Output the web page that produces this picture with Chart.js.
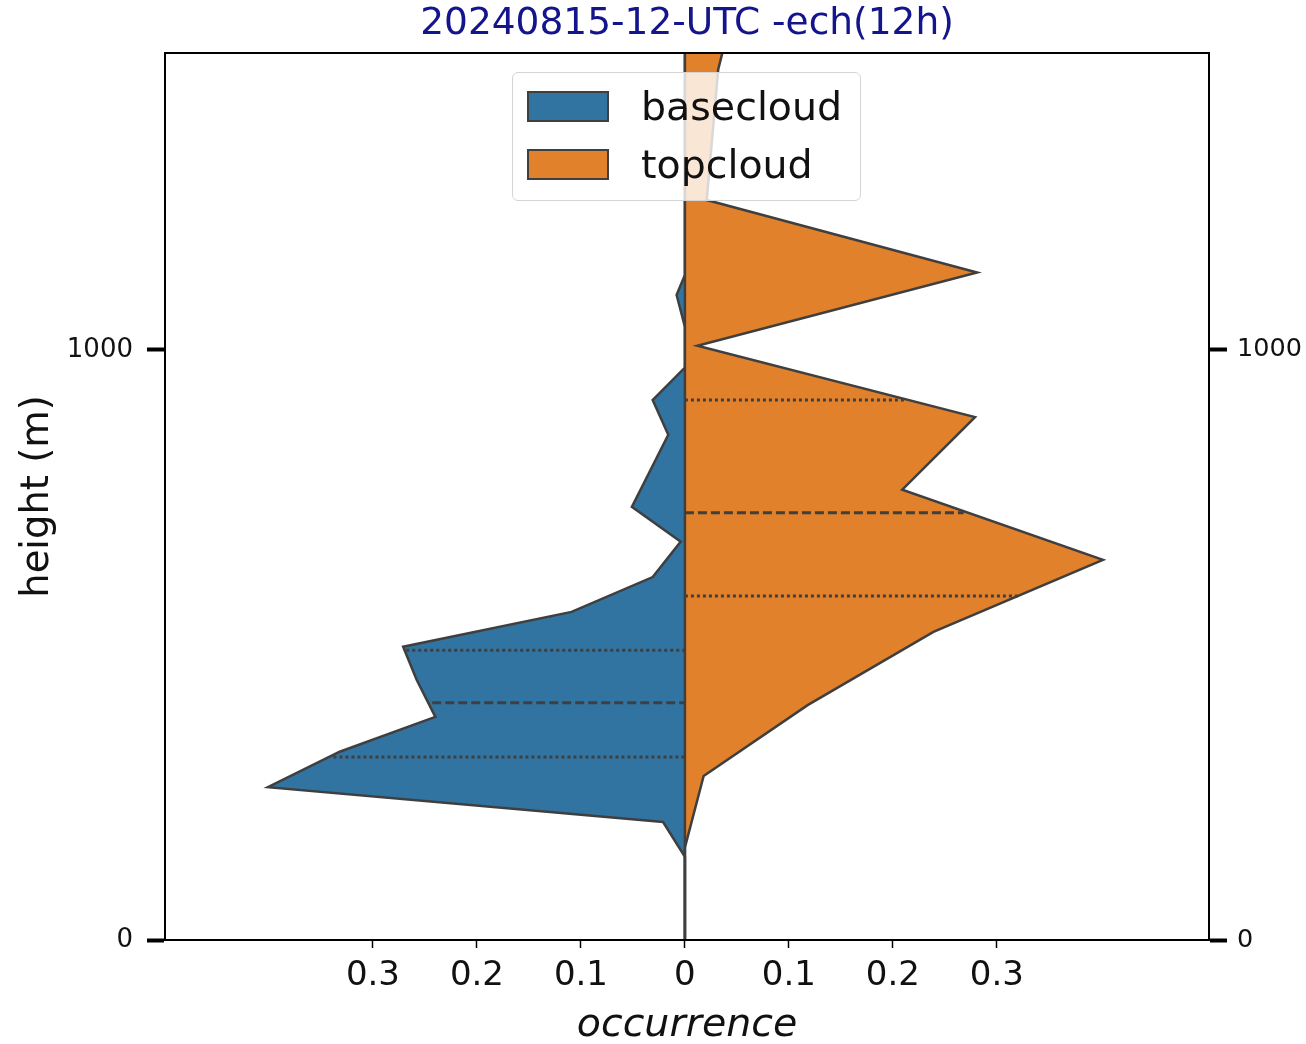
<!DOCTYPE html>
<html>
<head>
<meta charset="utf-8">
<script src="https://cdn.jsdelivr.net/npm/chart.js"></script>
<style>
  html, body { margin: 0; padding: 0; background: #fff; }
  #wrap { position: relative; width: 1306px; height: 1044px; }
  #legend {
    position: absolute; left: 512px; top: 72px; width: 347px; height: 127px;
    background: rgba(255,255,255,0.8); border: 1.5px solid #d4d4d4; border-radius: 6px;
    font-family: 'DejaVu Sans', sans-serif; font-size: 39.5px; color: #111;
  }
  .item { position: absolute; left: 14px; height: 40px; display: flex; align-items: center; }
  .patch { width: 78px; height: 27px; border: 2.5px solid #3f3f3f; margin-right: 32px; }
  .label { line-height: 40px; }
</style>
</head>
<body>
<div id="wrap">
  <canvas id="c" width="1306" height="1044"></canvas>
  <div id="legend"></div>
</div>
<script>
// ---- data ----
const titleText = '20240815-12-UTC -ech(12h)';
const seriesNames = ['basecloud', 'topcloud'];
const seriesColors = ['#3274a1', '#e1812c'];

// basecloud: heights (m) and occurrence (drawn on the left half)
const baseHeights = [0, 141, 200, 259, 319, 378, 441, 497, 556, 615, 675, 734, 856, 915, 970, 1039, 1093, 1127, 1503];
const baseOcc     = [0, 0, 0.021, 0.401, 0.332, 0.240, 0.258, 0.271, 0.109, 0.031, 0.004, 0.051, 0.016, 0.031, 0, 0, 0.008, 0, 0];

// topcloud: heights (m) and occurrence (drawn on the right half)
const topHeights = [0, 157, 278, 398, 522, 644, 763, 886, 1007, 1131, 1254, 1475, 1503];
const topOcc     = [0, 0, 0.018, 0.118, 0.239, 0.402, 0.209, 0.279, 0.012, 0.281, 0.021, 0.032, 0.036];

// quartile lines (height, extent) : [q1, median, q3]
const baseQuartH = [310, 402, 491];
const baseQuartW = [0.338, 0.243, 0.268];
const topQuartH  = [583, 724, 915];
const topQuartW  = [0.322, 0.268, 0.213];
const quartKinds = ['dotted', 'dashed', 'dotted'];

// axes
const yMin = 0, yMax = 1503;
const xMin = -0.5, xMax = 0.504;
const yTickValues = [0, 1000];
const yTickLabels = ['0', '1000'];
const xTickValues = [-0.3, -0.2, -0.1, 0, 0.1, 0.2, 0.3];
const xTickLabels = ['0.3', '0.2', '0.1', '0', '0.1', '0.2', '0.3'];

// ---- build ----
const edge = '#3f3f3f';
const FONT = 'DejaVu Sans';
Chart.defaults.font.family = FONT;
Chart.defaults.color = '#111';

const datasets = [];
datasets.push({
  label: seriesNames[0],
  data: baseHeights.map((h, i) => ({ x: -baseOcc[i], y: h })),
  backgroundColor: seriesColors[0], borderColor: edge, borderWidth: 2.5,
  fill: 'origin', pointRadius: 0, tension: 0, order: 10
});
datasets.push({
  label: seriesNames[1],
  data: topHeights.map((h, i) => ({ x: topOcc[i], y: h })),
  backgroundColor: seriesColors[1], borderColor: edge, borderWidth: 2.5,
  fill: 'origin', pointRadius: 0, tension: 0, order: 9
});
datasets.push({
  label: 'split',
  data: [{ x: 0, y: yMin }, { x: 0, y: yMax }],
  borderColor: edge, borderWidth: 2.5, fill: false, pointRadius: 0, order: 8
});
const dashFor = k => k === 'dashed' ? [9, 4] : [3, 3];
baseQuartH.forEach((h, i) => datasets.push({
  label: 'bq' + i, data: [{ x: -baseQuartW[i], y: h }, { x: 0, y: h }],
  borderColor: edge, borderWidth: 3, borderDash: dashFor(quartKinds[i]),
  fill: false, pointRadius: 0, order: 1
}));
topQuartH.forEach((h, i) => datasets.push({
  label: 'tq' + i, data: [{ x: 0, y: h }, { x: topQuartW[i], y: h }],
  borderColor: edge, borderWidth: 3, borderDash: dashFor(quartKinds[i]),
  fill: false, pointRadius: 0, order: 1
}));

const framePlugin = {
  id: 'frame',
  afterDatasetsDraw(chart) {
    const a = chart.chartArea, ctx = chart.ctx;
    ctx.save();
    ctx.strokeStyle = '#000'; ctx.lineWidth = 2;
    ctx.strokeRect(a.left, a.top, a.right - a.left, a.bottom - a.top);
    ctx.restore();
  }
};

new Chart(document.getElementById('c'), {
  type: 'line',
  data: { datasets },
  plugins: [framePlugin],
  options: {
    responsive: false, animation: false, devicePixelRatio: 1,
    indexAxis: 'y',
    layout: { padding: 0 },
    plugins: {
      legend: { display: false }, tooltip: { enabled: false },
      title: { display: true, fullSize: false, text: titleText, color: '#14148c',
               font: { family: FONT, size: 37.5, weight: 'normal', lineHeight: 1.2 }, padding: { top: 2, bottom: 6 } }
    },
    scales: {
      x: {
        type: 'linear', position: 'bottom', min: xMin, max: xMax,
        afterBuildTicks: s => { s.ticks = xTickValues.map(v => ({ value: v })); },
        afterFit: s => { s.height = 104; },
        ticks: { callback: (v, i) => xTickLabels[i], font: { size: 34 }, padding: 8, color: '#111', maxRotation: 0, autoSkip: false },
        grid: { drawOnChartArea: false, drawTicks: true, tickLength: 8, tickWidth: 1.5, tickColor: '#000' },
        border: { display: true, color: '#000', width: 2 },
        title: { display: true, text: 'occurrence', color: '#111', font: { size: 39.5, style: 'italic', lineHeight: 0.92 }, padding: { top: 0, bottom: 0 } }
      },
      y: {
        type: 'linear', position: 'left', min: yMin, max: yMax,
        afterBuildTicks: s => { s.ticks = yTickValues.map(v => ({ value: v })); },
        afterFit: s => { s.width = 165; },
        ticks: { callback: (v, i) => yTickLabels[i], font: { size: 26 }, padding: 14, color: '#111', autoSkip: false },
        grid: { drawOnChartArea: false, drawTicks: true, tickLength: 18, tickWidth: 4, tickColor: '#000' },
        border: { display: true, color: '#000', width: 2 },
        title: { display: true, text: 'height (m)', color: '#111', font: { size: 38.5 }, padding: { top: 15, bottom: 0 } }
      },
      y2: {
        type: 'linear', position: 'right', min: yMin, max: yMax,
        afterBuildTicks: s => { s.ticks = yTickValues.map(v => ({ value: v })); },
        afterFit: s => { s.width = 97; },
        ticks: { callback: (v, i) => yTickLabels[i], font: { size: 25.5 }, padding: 10, color: '#111', autoSkip: false },
        grid: { drawOnChartArea: false, drawTicks: true, tickLength: 18, tickWidth: 4, tickColor: '#000' },
        border: { display: true, color: '#000', width: 2 }
      }
    }
  }
});

// HTML legend
const leg = document.getElementById('legend');
seriesNames.forEach((n, i) => {
  const it = document.createElement('div');
  it.className = 'item';
  it.style.top = (i === 0 ? 13 : 71) + 'px';
  it.innerHTML = '<div class="patch" style="background:' + seriesColors[i] + '"></div><span class="label">' + n + '</span>';
  leg.appendChild(it);
});
</script>
</body>
</html>
